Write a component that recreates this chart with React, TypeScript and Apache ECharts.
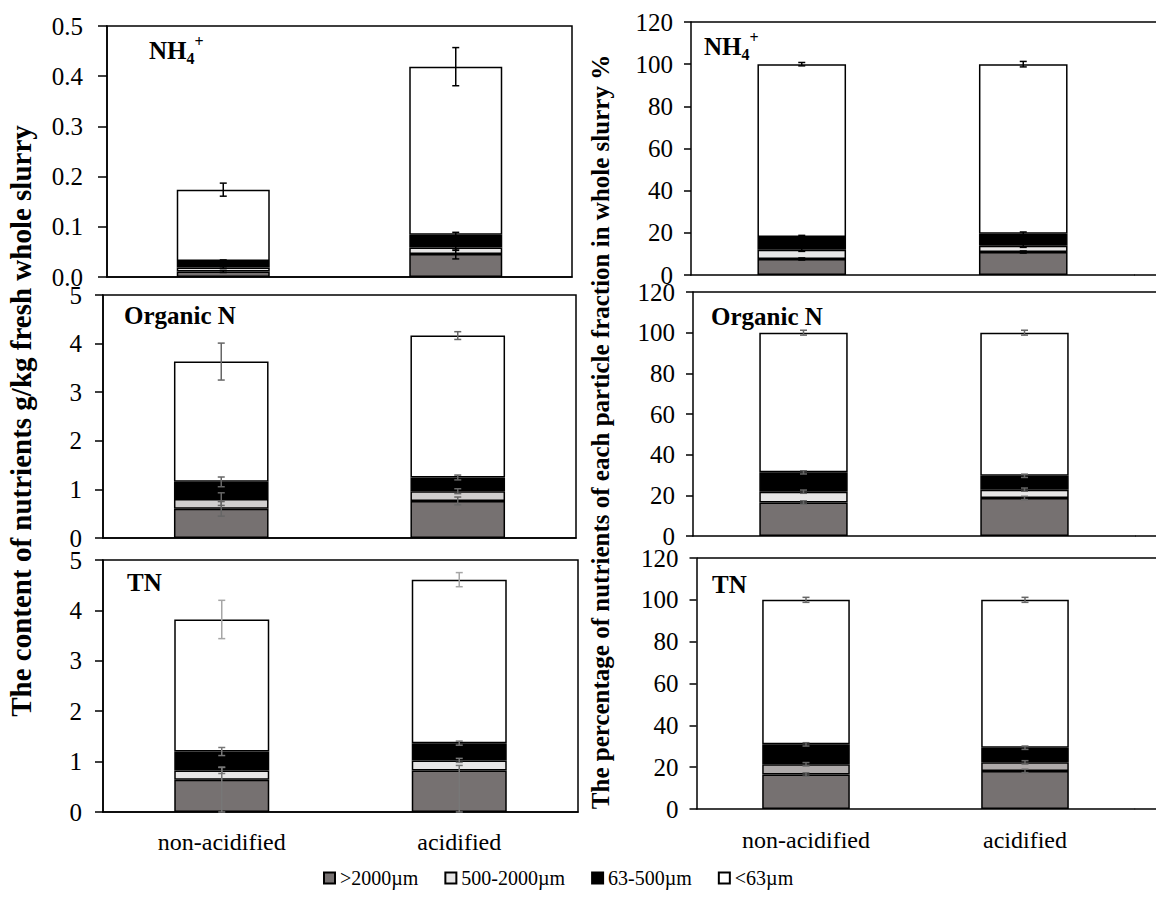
import React, { useEffect, useRef } from 'react';
import * as echarts from 'echarts';

const categories = ['non-acidified', 'acidified'];
const fractions = ['>2000µm', '500-2000µm', '63-500µm', '<63µm'];

// values per fraction (rows) x category (columns)
// NH4+ content, g/kg fresh whole slurry
const nh4Content = [[0.011, 0.046], [0.008, 0.013], [0.013, 0.025], [0.142, 0.335]];
const nh4ContentErr = [[0.002, 0.010], [0.002, 0.006], [0.002, 0.005], [0.013, 0.038]];
// NH4+ percentage
const nh4Pct = [[7.6, 10.9], [4.4, 3.0], [6.0, 5.7], [82.0, 80.4]];
const nh4PctErr = [[0.5, 0.5], [0.8, 0.8], [0.8, 0.8], [0.8, 1.3]];
// Organic N content
const orgContent = [[0.60, 0.763], [0.20, 0.20], [0.355, 0.282], [2.475, 2.92]];
const orgContentErr = [[0.15, 0.08], [0.13, 0.05], [0.10, 0.05], [0.38, 0.08]];
// Organic N percentage
const orgPct = [[16.5, 18.7], [5.3, 4.1], [9.5, 6.8], [68.7, 70.4]];
const orgPctErr = [[0.8, 0.8], [0.8, 0.8], [0.8, 0.8], [1.2, 1.2]];
// TN content
const tnContent = [[0.64, 0.824], [0.184, 0.2], [0.376, 0.342], [2.62, 3.244]];
const tnContentErrPlus = [[0.25, 0.1], [0.06, 0.04], [0.08, 0.04], [0.38, 0.14]];
const tnContentErrMinus = [[0.64, 0.824], [0.06, 0.04], [0.08, 0.04], [0.38, 0.14]];
// TN percentage
const tnPct = [[16.5, 18.2], [4.9, 4.1], [9.5, 7.0], [69.1, 70.7]];
const tnPctErr = [[0.8, 0.8], [0.8, 0.8], [0.8, 0.8], [1.2, 1.2]];

const contentTicksMax = [0.5, 5, 5];
const pctTickMax = 120;

const FONT = 'Liberation Serif, Times New Roman, serif';

type Panel = {
  grid: { left: number; top: number; width: number; height: number };
  max: number;
  interval: number;
  decimals: number;
  box: boolean;
  values: number[][];
  errPlus: number[][];
  errMinus: number[][];
  light: string;
  errColor: string;
  totalErrColor: string;
  labelMargin: number;
  tickLen: number;
};

const panels: Panel[] = [
  { grid: { left: 107, top: 26, width: 465, height: 251 }, max: contentTicksMax[0], interval: 0.1, decimals: 1, box: true,
    values: nh4Content, errPlus: nh4ContentErr, errMinus: nh4ContentErr, light: '#E7E6E6', errColor: '#000', totalErrColor: '#000', labelMargin: 24, tickLen: 9 },
  { grid: { left: 103, top: 295, width: 473, height: 243 }, max: contentTicksMax[1], interval: 1, decimals: 0, box: true,
    values: orgContent, errPlus: orgContentErr, errMinus: orgContentErr, light: '#D0CECE', errColor: '#666', totalErrColor: '#666', labelMargin: 21, tickLen: 8 },
  { grid: { left: 103, top: 560, width: 475, height: 252 }, max: contentTicksMax[2], interval: 1, decimals: 0, box: true,
    values: tnContent, errPlus: tnContentErrPlus, errMinus: tnContentErrMinus, light: '#E7E6E6', errColor: '#777', totalErrColor: '#a6a6a6', labelMargin: 21, tickLen: 8 },
  { grid: { left: 691, top: 22, width: 443, height: 253 }, max: pctTickMax, interval: 20, decimals: 0, box: false,
    values: nh4Pct, errPlus: nh4PctErr, errMinus: nh4PctErr, light: '#E7E6E6', errColor: '#000', totalErrColor: '#000', labelMargin: 18, tickLen: 7 },
  { grid: { left: 693, top: 292, width: 442, height: 244 }, max: pctTickMax, interval: 20, decimals: 0, box: false,
    values: orgPct, errPlus: orgPctErr, errMinus: orgPctErr, light: '#E7E6E6', errColor: '#666', totalErrColor: '#666', labelMargin: 18, tickLen: 7 },
  { grid: { left: 696.5, top: 558, width: 438, height: 251 }, max: pctTickMax, interval: 20, decimals: 0, box: false,
    values: tnPct, errPlus: tnPctErr, errMinus: tnPctErr, light: '#AEAAAA', errColor: '#666', totalErrColor: '#666', labelMargin: 18, tickLen: 7 },
];

const panelTitles = [
  { x: 149, y: 50, text: '' },
  { x: 124, y: 315, text: 'Organic N' },
  { x: 127, y: 582, text: 'TN' },
  { x: 704, y: 46, text: '' },
  { x: 711, y: 316, text: 'Organic N' },
  { x: 712, y: 584, text: 'TN' },
];

function buildOption() {
  const grids: any[] = [];
  const xAxes: any[] = [];
  const yAxes: any[] = [];
  const series: any[] = [];
  const graphics: any[] = [];
  const lineW = 1.5;

  panels.forEach((p, i) => {
    grids.push({
      ...p.grid,
      show: p.box,
      borderColor: '#000',
      borderWidth: lineW,
      backgroundColor: 'transparent',
    });
    xAxes.push({
      type: 'category',
      gridIndex: i,
      data: categories,
      axisLine: { show: true, onZero: false, lineStyle: { color: '#000', width: lineW } },
      axisTick: { show: false },
      axisLabel: { show: i === 2 || i === 5, fontFamily: FONT, fontSize: 24, color: '#000', margin: i === 2 ? 18 : 19 },
    });
    yAxes.push({
      type: 'value',
      gridIndex: i,
      min: 0,
      max: p.max,
      interval: p.interval,
      splitLine: { show: false },
      axisLine: { show: true, lineStyle: { color: '#000', width: lineW } },
      axisTick: { show: true, length: p.tickLen, lineStyle: { color: '#000', width: lineW } },
      axisLabel: {
        fontFamily: FONT, fontSize: 25, color: '#000', margin: p.labelMargin,
        formatter: (v: number) => v.toFixed(p.decimals),
      },
    });
    const colors = ['#767171', p.light, '#000000', '#ffffff'];
    fractions.forEach((f, k) => {
      series.push({
        name: f,
        type: 'bar',
        xAxisIndex: i,
        yAxisIndex: i,
        stack: 'panel' + i,
        barWidth: '40%',
        data: p.values[k],
        itemStyle: { color: colors[k], borderColor: '#000', borderWidth: 1.5 },
        emphasis: { disabled: true },
      });
    });
    // error bars at the cumulative top of each fraction: [cat, top, minus, plus, fractionIndex]
    const errData: number[][] = [];
    categories.forEach((_, j) => {
      let cum = 0;
      fractions.forEach((__, k) => {
        cum += p.values[k][j];
        errData.push([j, cum, p.errMinus[k][j], p.errPlus[k][j], k]);
      });
    });
    const errColor = p.errColor;
    const totalErrColor = p.totalErrColor;
    series.push({
      name: 'error',
      type: 'custom',
      xAxisIndex: i,
      yAxisIndex: i,
      z: 10,
      silent: true,
      clip: false,
      encode: { x: 0, y: 1 },
      data: errData,
      renderItem: (params: any, api: any) => {
        const x = api.value(0);
        const top = api.value(1);
        const lo = Math.max(0, top - api.value(2));
        const hi = top + api.value(3);
        const a = api.coord([x, hi]);
        const b = api.coord([x, lo]);
        const c = 3.5;
        const style = { stroke: api.value(4) === 3 ? totalErrColor : errColor, lineWidth: 1.5 };
        return {
          type: 'group',
          children: [
            { type: 'line', shape: { x1: a[0], y1: a[1], x2: b[0], y2: b[1] }, style },
            { type: 'line', shape: { x1: a[0] - c, y1: a[1], x2: a[0] + c, y2: a[1] }, style },
            { type: 'line', shape: { x1: b[0] - c, y1: b[1], x2: b[0] + c, y2: b[1] }, style },
          ],
        };
      },
    });
    if (!p.box) {
      const right = p.grid.left + p.grid.width;
      const top = p.grid.top;
      const bottom = p.grid.top + p.grid.height;
      graphics.push({ type: 'line', shape: { x1: p.grid.left, y1: top, x2: 1156, y2: top }, style: { stroke: '#000', lineWidth: lineW } });
      graphics.push({ type: 'line', shape: { x1: right, y1: bottom, x2: 1156, y2: bottom }, style: { stroke: '#000', lineWidth: lineW } });
    }
  });

  panelTitles.forEach((t, i) => {
    const isNH4 = i === 0 || i === 3;
    graphics.push({
      type: 'text',
      x: t.x,
      y: t.y,
      z: 20,
      style: isNH4
        ? {
            text: '{a|NH}{s|4}{p|+}',
            verticalAlign: 'middle',
            align: 'left',
            rich: {
              a: { fontFamily: FONT, fontSize: 25, fontWeight: 'bold', lineHeight: 33, fill: '#000', color: '#000' },
              s: { fontFamily: FONT, fontSize: 16, fontWeight: 'bold', verticalAlign: 'bottom', fill: '#000', color: '#000' },
              p: { fontFamily: FONT, fontSize: 16, fontWeight: 'bold', verticalAlign: 'top', fill: '#000', color: '#000' },
            },
          }
        : {
            text: t.text,
            fontFamily: FONT,
            fontSize: 25,
            fontWeight: 'bold',
            fill: '#000',
            verticalAlign: 'middle',
            align: 'left',
          },
    });
  });

  graphics.push({
    type: 'text',
    x: 21,
    y: 421,
    rotation: Math.PI / 2,
    style: {
      text: 'The content of nutrients g/kg fresh whole slurry',
      fontFamily: FONT,
      fontSize: 29,
      fontWeight: 'bold',
      fill: '#000',
      align: 'center',
      verticalAlign: 'middle',
    },
  });
  graphics.push({
    type: 'text',
    x: 600,
    y: 432,
    rotation: Math.PI / 2,
    style: {
      text: 'The percentage of nutrients of each particle fraction in whole slurry %',
      fontFamily: FONT,
      fontSize: 25,
      fontWeight: 'bold',
      fill: '#000',
      align: 'center',
      verticalAlign: 'middle',
    },
  });

  return {
    animation: false,
    backgroundColor: '#ffffff',
    grid: grids,
    xAxis: xAxes,
    yAxis: yAxes,
    series,
    legend: {
      data: fractions,
      left: 318,
      top: 863,
      itemWidth: 11,
      itemHeight: 11,
      itemGap: 26,
      icon: 'rect',
      selectedMode: false,
      textStyle: { fontFamily: FONT, fontSize: 20, color: '#000' },
    },
    graphic: graphics,
  };
}

export default function App() {
  const ref = useRef<HTMLDivElement>(null);
  useEffect(() => {
    if (!ref.current) return;
    const chart = echarts.init(ref.current, undefined, { renderer: 'svg' });
    chart.setOption(buildOption() as any);
    return () => chart.dispose();
  }, []);
  return (
    <div
      ref={ref}
      style={{ position: 'fixed', left: 0, top: 0, width: 1156, height: 899, background: '#fff' }}
    />
  );
}
